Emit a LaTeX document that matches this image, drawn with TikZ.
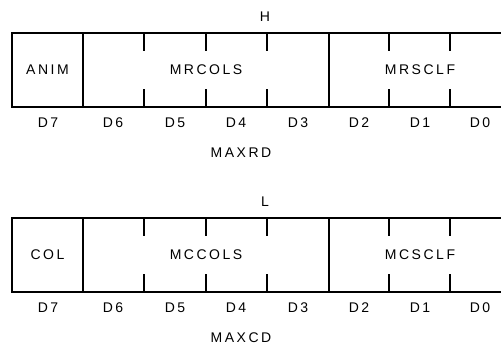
\documentclass[tikz,border=0pt]{standalone}
\usepackage{fontspec}
\setmainfont{Liberation Sans}[LetterSpace=18]
\usetikzlibrary{positioning}

\begin{document}
\begin{tikzpicture}[x=1pt, y=-1pt,
    field/.style={draw, line width=1.2pt, minimum height=74pt, inner sep=0pt, outer sep=0pt, font=\fontsize{14}{16}\selectfont},
    bitmark/.style={line width=1.3pt},
    txt/.style={inner sep=0pt, font=\fontsize{14}{16}\selectfont}
]
\clip (0,0) rectangle (501,346);
\foreach \y/\byte/\flag/\cols/\sclf/\reg in {0/H/ANIM/MRCOLS/MRSCLF/MAXRD, 185/L/COL/MCCOLS/MCSCLF/MAXCD}{
  % register fields
  \node[field, minimum width=71pt] (\reg-flag) at (47.5,70+\y) {\flag};
  \node[field, minimum width=246pt, right=0pt of \reg-flag] (\reg-cols) {\cols};
  \node[field, minimum width=182pt, right=0pt of \reg-cols] (\reg-sclf) {\sclf};
  \node[txt] (\reg-byte) at (265,17+\y) {\byte};
  \node[txt] (\reg-name) at (241,153+\y) {\reg};
  % bit boundaries
  \foreach \x in {144,206,267,389,450}{
    \draw[bitmark] (\x,33+\y) -- ++(0,18);
    \draw[bitmark] (\x,107+\y) -- ++(0,-18);
  }
  \foreach \b/\x in {7/48,6/113,5/175,4/236,3/298,2/359,1/420,0/480}
    \node[txt] (\reg-d\b) at (\x,123+\y) {D\b};
}
\end{tikzpicture}
\end{document}
